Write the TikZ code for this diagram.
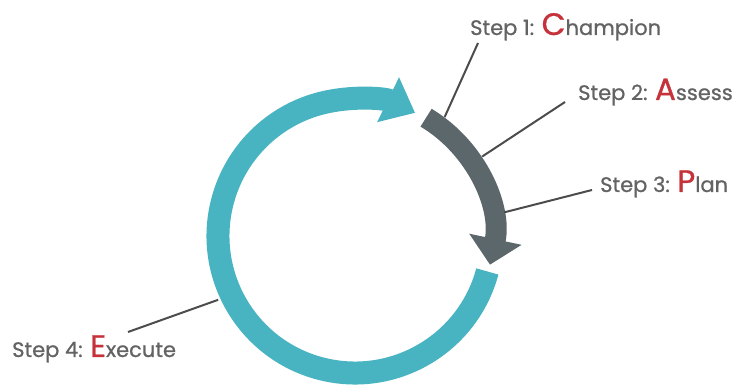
\documentclass[tikz,border=0pt]{standalone}
\usepackage{fontspec}
\setmainfont{Poppins}
\newfontfamily\stepfont{Poppins}[FakeBold=0.8]
\usepackage{xcolor}
\usepackage{tikz}
\usetikzlibrary{arrows.meta}
\usetikzlibrary{calc}
\usetikzlibrary{positioning}
\tikzset{>=stealth}
\definecolor{cycteal}{HTML}{48B3C1}
\definecolor{cycslate}{HTML}{5C676C}
\definecolor{cycred}{HTML}{C5323A}
\definecolor{cyctext}{HTML}{636363}
\newcommand{\stepinit}[1]{{\color{cycred}\fontsize{31}{31}\selectfont #1}}

\begin{document}
\begin{tikzpicture}[x=1pt,y=1pt,
    steplabel/.style={text=cyctext,font=\stepfont\fontsize{21}{21}\selectfont,inner sep=0pt,anchor=base west},
    leader/.style={draw=black!70,line width=2pt}]
    \useasboundingbox (0,0) rectangle (751,387);
    \coordinate (O) at (355,151);
    \draw[cycteal,line width=23pt,-{Triangle[width=48pt,length=30pt]}]
      ($(O)+(-15:137)$) arc[start angle=-15,end angle=-296,radius=137];
    \draw[cycslate,line width=21pt,-{Triangle[width=52pt,length=26pt]}]
      ($(O)+(59:138)$) arc[start angle=59,end angle=-12,radius=138];
    \coordinate (c1) at ($(O)+(53:149)$);
    \coordinate (c2) at ($(O)+(32:150)$);
    \coordinate (c3) at ($(O)+(9:151)$);
    \coordinate (c4) at ($(O)+(205:151)$);
    \node[steplabel] (C) at (470,352) {Step 1: \stepinit{C}hampion};
    \node[steplabel] (A) at (578,287) {Step 2: \stepinit{A}ssess};
    \node[steplabel] (P) at (600,195) {Step 3: \stepinit{P}lan};
    \node[steplabel] (E) at (12,30) {Step 4: \stepinit{E}xecute};
    \draw[leader] (c1) -- ([xshift=8pt,yshift=-8pt]C.base west);
    \draw[leader] (c2) -- ([xshift=-13pt,yshift=-2pt]A.base west);
    \draw[leader] (c3) -- ([xshift=-8pt,yshift=2pt]P.base west);
    \draw[leader] (c4) -- ([xshift=116pt,yshift=25pt]E.base west);
\end{tikzpicture}
\end{document}
